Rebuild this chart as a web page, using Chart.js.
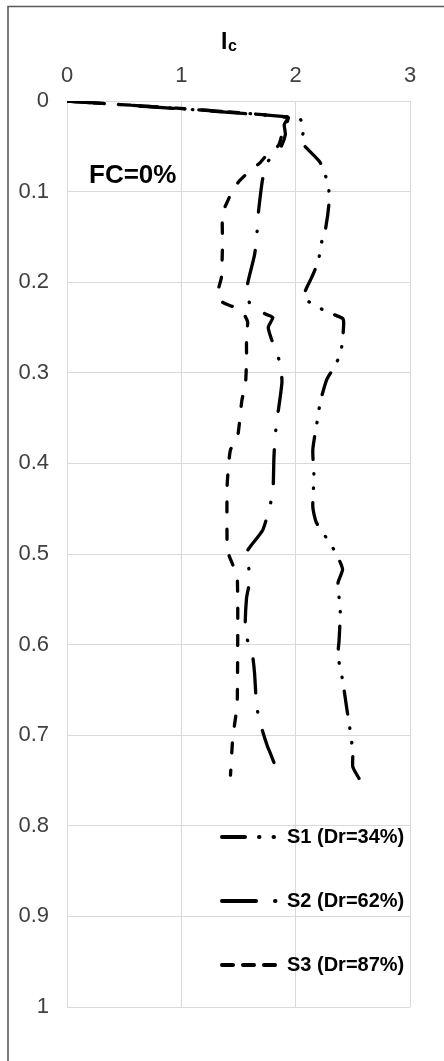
<!DOCTYPE html>
<html>
<head>
<meta charset="utf-8">
<script src="https://cdn.jsdelivr.net/npm/chart.js@4/dist/chart.umd.min.js"></script>
<style>
html,body{margin:0;padding:0;background:#fff;}
#wrap{position:relative;width:444px;height:1061px;}
canvas{display:block;}
</style>
</head>
<body>
<div id="wrap"><canvas id="c" width="444" height="1061"></canvas></div>
<script>
// ---- data (Ic vs normalized depth) ----
const xTicks = [0, 1, 2, 3];
const yTicks = [0, 0.1, 0.2, 0.3, 0.4, 0.5, 0.6, 0.7, 0.8, 0.9, 1];
const seriesLabels = ['S1 (Dr=34%)', 'S2 (Dr=62%)', 'S3 (Dr=87%)'];

const icS1 = [0, 2.03, 2.07, 2.05, 2.21, 2.26, 2.29, 2.29, 2.26, 2.22, 2.20, 2.15, 2.07, 2.17, 2.30, 2.41, 2.42, 2.41, 2.39, 2.33, 2.27, 2.23, 2.21, 2.19, 2.15, 2.16, 2.15, 2.18, 2.30, 2.36, 2.41, 2.37, 2.39, 2.38, 2.37, 2.41, 2.45, 2.47, 2.50, 2.50, 2.56];
const depthS1 = [0, 0.019, 0.032, 0.045, 0.067, 0.082, 0.098, 0.115, 0.142, 0.159, 0.176, 0.192, 0.216, 0.226, 0.234, 0.240, 0.245, 0.264, 0.280, 0.295, 0.308, 0.325, 0.336, 0.352, 0.385, 0.415, 0.448, 0.465, 0.488, 0.501, 0.517, 0.532, 0.562, 0.595, 0.612, 0.639, 0.673, 0.689, 0.719, 0.735, 0.749];

const icS2 = [0, 1.93, 1.90, 1.91, 1.87, 1.75, 1.71, 1.67, 1.66, 1.64, 1.57, 1.61, 1.75, 1.80, 1.76, 1.80, 1.86, 1.88, 1.84, 1.82, 1.81, 1.80, 1.76, 1.71, 1.58, 1.58, 1.60, 1.57, 1.56, 1.62, 1.64, 1.66, 1.70, 1.75, 1.82, 1.79];
const depthS2 = [0, 0.018, 0.026, 0.037, 0.051, 0.068, 0.087, 0.128, 0.149, 0.170, 0.209, 0.226, 0.236, 0.239, 0.250, 0.267, 0.288, 0.310, 0.349, 0.371, 0.393, 0.432, 0.454, 0.474, 0.496, 0.506, 0.528, 0.549, 0.587, 0.610, 0.631, 0.669, 0.691, 0.711, 0.735, 0.748];

const icS3 = [0, 1.93, 1.89, 1.85, 1.75, 1.69, 1.60, 1.51, 1.45, 1.40, 1.36, 1.36, 1.35, 1.32, 1.36, 1.45, 1.54, 1.58, 1.57, 1.57, 1.56, 1.53, 1.49, 1.43, 1.41, 1.40, 1.40, 1.41, 1.45, 1.49, 1.49, 1.48, 1.45, 1.43];
const depthS3 = [0, 0.018, 0.032, 0.049, 0.059, 0.068, 0.077, 0.088, 0.098, 0.112, 0.124, 0.157, 0.195, 0.211, 0.222, 0.227, 0.234, 0.244, 0.256, 0.286, 0.314, 0.330, 0.372, 0.385, 0.407, 0.427, 0.487, 0.499, 0.512, 0.527, 0.658, 0.675, 0.703, 0.744];

const FONT = "'Liberation Sans', Arial, sans-serif";
const dashS1 = [23, 14, 0.5, 14, 0.5, 14];
const dashS2 = [34, 19, 0.5, 19];
const dashS3 = [10, 17];
const legendDash = [dashS1, dashS2, [11, 10]];

function pts(xs, ys) { return xs.map((x, i) => ({x: x, y: ys[i]})); }
function ds(label, xs, ys, dash) {
  return {
    label: label, data: pts(xs, ys), showLine: true, fill: false,
    borderColor: '#000', backgroundColor: '#000', borderWidth: 3.3,
    borderDash: dash, borderCapStyle: 'round', borderJoinStyle: 'round',
    pointRadius: 0, pointHoverRadius: 0, tension: 0.2
  };
}

const decor = {
  id: 'decor',
  beforeDraw(chart) {
    const ctx = chart.ctx;
    ctx.save();
    ctx.fillStyle = '#fff';
    ctx.fillRect(0, 0, chart.width, chart.height);
    ctx.strokeStyle = '#5a5a5a';
    ctx.lineWidth = 1.6;
    ctx.beginPath();
    ctx.moveTo(8, chart.height);
    ctx.lineTo(8, 6.5);
    ctx.lineTo(chart.width, 6.5);
    ctx.stroke();
    ctx.restore();
  },
  afterDraw(chart) {
    const ctx = chart.ctx;
    ctx.save();
    ctx.fillStyle = '#000';
    ctx.textBaseline = 'alphabetic';
    ctx.textAlign = 'left';
    ctx.font = 'bold 23px ' + FONT;
    ctx.fillText('I', 221, 49);
    ctx.font = 'bold 16px ' + FONT;
    ctx.fillText('c', 228, 51);
    ctx.font = 'bold 26px ' + FONT;
    ctx.fillText('FC=0%', 89, 183);
    const rows = [837, 901, 965];
    chart.data.datasets.forEach((d, i) => {
      const y = rows[i];
      ctx.strokeStyle = '#000';
      ctx.lineWidth = 4;
      ctx.lineCap = 'round';
      ctx.setLineDash(legendDash[i]);
      ctx.beginPath();
      ctx.moveTo(222, y);
      ctx.lineTo(276, y);
      ctx.stroke();
      ctx.setLineDash([]);
      ctx.font = 'bold 20px ' + FONT;
      ctx.textBaseline = 'middle';
      ctx.fillText(d.label, 287, y);
    });
    ctx.restore();
  }
};

function fmt(v) { return String(Math.round(v * 10) / 10); }

new Chart(document.getElementById('c'), {
  type: 'scatter',
  data: {
    datasets: [
      ds(seriesLabels[0], icS1, depthS1, dashS1),
      ds(seriesLabels[1], icS2, depthS2, dashS2),
      ds(seriesLabels[2], icS3, depthS3, dashS3)
    ]
  },
  options: {
    responsive: false,
    animation: false,
    devicePixelRatio: 1,
    layout: { padding: { left: 0, top: 0, right: 34, bottom: 54 } },
    plugins: { legend: { display: false }, tooltip: { enabled: false }, title: { display: false } },
    scales: {
      x: {
        type: 'linear', position: 'top', min: 0, max: 3,
        afterBuildTicks(s) { s.ticks = xTicks.map(v => ({value: v})); },
        afterFit(s) { s.height = 101; },
        grid: { color: '#d9d9d9', lineWidth: 1, drawTicks: false },
        border: { display: false },
        ticks: { padding: 12, color: '#404040', font: { family: FONT, size: 22 }, callback: fmt }
      },
      y: {
        type: 'linear', reverse: true, min: 0, max: 1,
        afterBuildTicks(s) { s.ticks = yTicks.map(v => ({value: v})); },
        afterFit(s) { s.width = 67; },
        grid: { color: '#d9d9d9', lineWidth: 1, drawTicks: false },
        border: { display: false },
        ticks: { padding: 18, color: '#404040', font: { family: FONT, size: 22 }, callback: fmt }
      }
    }
  },
  plugins: [decor]
});
</script>
</body>
</html>
